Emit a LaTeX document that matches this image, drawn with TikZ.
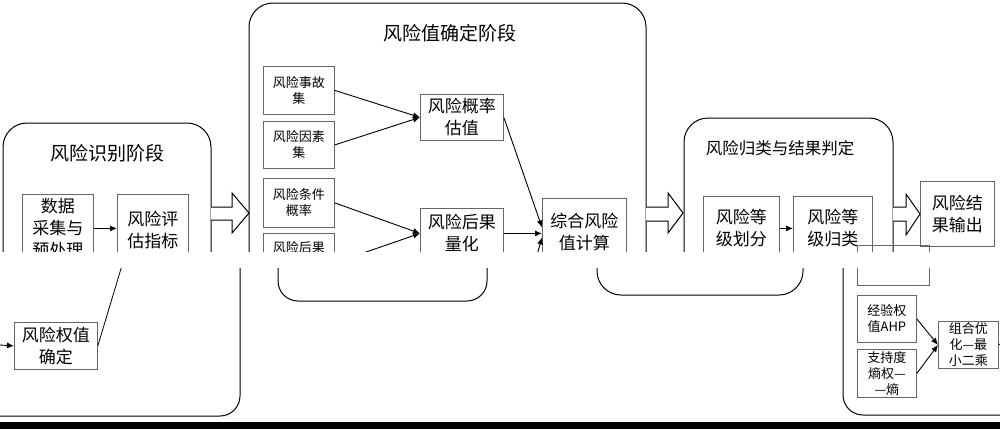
\documentclass[tikz,border=0pt]{standalone}
\usepackage{fontspec}
\setmainfont{Noto Sans CJK SC}
\usetikzlibrary{arrows.meta}
\tikzset{
  box/.style={draw=black!60, line width=0.8pt, anchor=north west, inner sep=0pt, align=center},
  big/.style={font=\fontsize{17}{22}\selectfont},
  small/.style={font=\fontsize{13}{16}\selectfont},
  stage/.style={line width=1pt, rounded corners=24pt},
  stagetitle/.style={font=\fontsize{19}{22}\selectfont},
  hollow/.style={line width=1pt, fill=white},
  arr/.style={-{Latex[length=7pt,width=6pt]}, line width=0.9pt},
}
\begin{document}
\begin{tikzpicture}[x=1pt,y=-1pt]
    \useasboundingbox (0,0) rectangle (1000,429);
    \draw[stage]
        (3,262) -- (3,123) -- (211,123) -- (211,262);
    \draw[stage]
        (249,262) -- (249,3) -- (646,3) -- (646,262);
    \draw[stage]
        (684,262) -- (684,118) -- (893,118) -- (893,262);
    \draw[stage, rounded corners=20pt]
        (240,255) -- (240,416) -- (-10,416);
    \draw[stage, rounded corners=20pt]
        (278,255) -- (278,301) -- (487,301) -- (487,255);
    \draw[stage, rounded corners=24pt]
        (597,255) -- (597,295) -- (803,295) -- (803,255);
    \draw[stage, rounded corners=20pt]
        (843,255) -- (843,415) -- (1010,415);
    \node[stagetitle] (t1) at (107,153) {风险识别阶段};
    \node[stagetitle] (t2) at (450,33) {风险值确定阶段};
    \node[stagetitle, font=\fontsize{16.5}{20}\selectfont] (t3) at (780,148) {风险归类与结果判定};
    \node[box,big,minimum width=71pt,minimum height=68pt] (pre) at (22,194) {数据\\采集与\\预处理};
    \node[box,big,minimum width=71pt,minimum height=72pt] (idx) at (117,194) {风险评\\估指标};
    \draw[arr]
        (pre.east) -- (pre.east -| idx.west);
    \node[box,big,minimum width=83pt,minimum height=47pt] (wgt) at (14,322) {风险权值\\确定};
    \coordinate (win) at (0,345);
    \coordinate (wcut) at (123,262);
    \draw[arr]
        (win) -- (wgt.west);
    \draw[line width=0.8pt]
        (wgt.east) -- (wcut);
    \node[box,small,minimum width=71pt,minimum height=48pt] (acc) at (263,66) {风险事故\\集};
    \node[box,small,minimum width=71pt,minimum height=47pt] (fac) at (263,121) {风险因素\\集};
    \node[box,small,minimum width=71pt,minimum height=49pt] (cnd) at (263,178) {风险条件\\概率};
    \node[box,small,minimum width=71pt,minimum height=29pt] (cons) at (263,233) {风险后果};
    \node[box,big,minimum width=83pt,minimum height=46pt] (prob) at (420,94) {风险概率\\估值};
    \node[box,big,minimum width=83pt,minimum height=50pt] (qua) at (420,208) {风险后果\\量化};
    \node[box,big,minimum width=84pt,minimum height=68pt] (sum) at (542,198) {综合风险\\值计算};
    \coordinate (scut) at (535,262);
    \draw[arr] (acc.east) -- (prob.west);
    \draw[arr] (fac.east) -- (prob.west);
    \draw[arr] (cnd.east) -- (qua.west);
    \draw[arr] (cons.south east) -- (qua.west);
    \draw[arr] (prob.east) -- ([yshift=5pt]sum.west);
    \draw[arr] (qua.east) -- (qua.east -| sum.west);
    \draw[arr] (scut) -- ([yshift=-5pt]sum.west);
    \node[box,big,minimum width=76pt,minimum height=64pt] (div) at (703,196) {风险等\\级划分};
    \node[box,big,minimum width=79pt,minimum height=64pt] (cls) at (793,196) {风险等\\级归类};
    \draw[arr] (div.east) -- (cls.west);
    \node[box,big,minimum width=74pt,minimum height=65pt] (out) at (920,181) {风险结\\果输出};
    \draw[hollow]
        (211,207) -- (232,207) -- (232,193) -- (249,213) -- (232,233) -- (232,220) -- (211,220);
    \draw[hollow]
        (646,207) -- (668,207) -- (668,193) -- (683,213) -- (668,233) -- (668,221) -- (646,221);
    \draw[hollow]
        (893,207) -- (906,207) -- (906,194) -- (920,214) -- (906,235) -- (906,221) -- (893,221);
    \node[box,minimum width=72pt,minimum height=40pt] (inf) at (857,245) {};
    \node[box,small,minimum width=59pt,minimum height=47pt] (ahp) at (857,295) {经验权\\值AHP};
    \node[box,small,minimum width=59pt,minimum height=48pt] (ent) at (857,349) {支持度\\熵权—\\—熵};
    \node[box,small,minimum width=60pt,minimum height=47pt] (opt) at (938,321) {组合优\\化—最\\小二乘};
    \coordinate (oout) at (1000,344);
    \draw[arr] (ahp.east) -- (opt.west);
    \draw[arr] (ent.east) -- (opt.west);
    \draw[line width=0.8pt] (opt.east) -- (oout);
    \fill[white]
        (0,252) rectangle (1000,268);
    \fill
        (0,422) rectangle (1000,429);
\end{tikzpicture}
\end{document}
